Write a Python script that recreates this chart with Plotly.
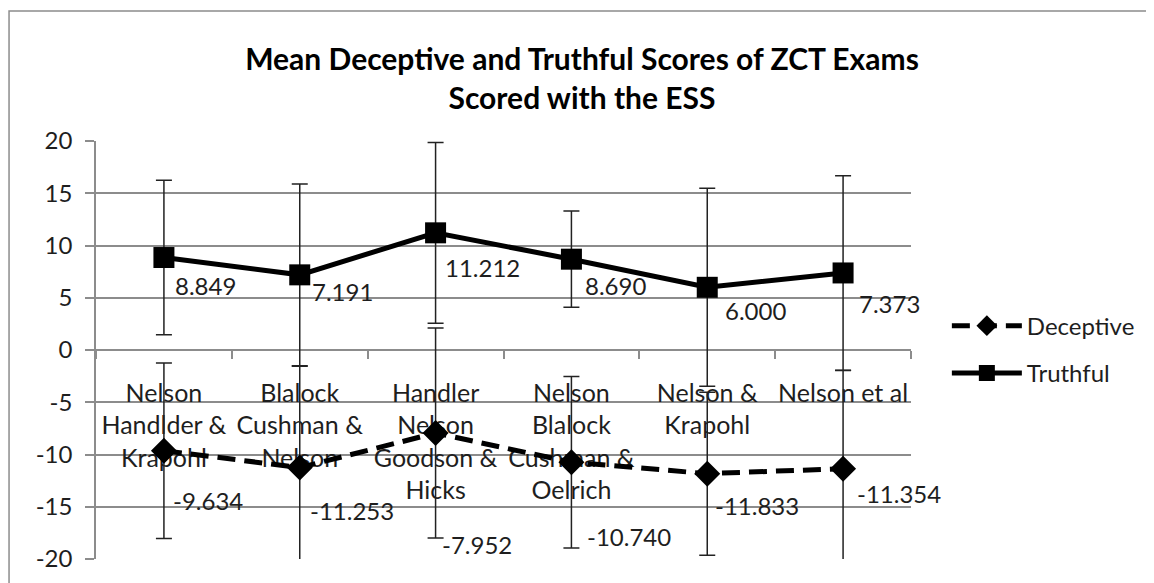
import plotly.graph_objects as go

# Category labels (multi-line as in the source chart)
studies = [
    "Nelson<br>Handlder &<br>Krapohl",
    "Blalock<br>Cushman &<br>Nelson",
    "Handler<br>Nelson<br>Goodson &<br>Hicks",
    "Nelson<br>Blalock<br>Cushman &<br>Oelrich",
    "Nelson &<br>Krapohl",
    "Nelson et al",
]

deceptive_mean = [-9.634, -11.253, -7.952, -10.740, -11.833, -11.354]
deceptive_err = [8.4, 9.7, 10.05, 8.2, 7.8, 9.4]

truthful_mean = [8.849, 7.191, 11.212, 8.690, 6.000, 7.373]
truthful_err = [7.4, 8.7, 8.65, 4.6, 9.47, 9.3]

y_ticks = [-20, -15, -10, -5, 0, 5, 10, 15, 20]
y_tick_labels = ["-20", "-15", "-10", "-5", "0", "5", "10", "15", "20"]

# pixel nudges (dx, dy) for the value labels, as they sit in the original
nudge_deceptive = [(7, 50), (8, 43), (4, 111), (14, 74), (6, 32), (12, 25)]
nudge_truthful = [(9, 28), (10, 17), (7, 35), (12, 26), (16, 23), (14, 31)]

FONT = "Lato"
INK = "#1e1e1e"
GRID = "#8c8c8c"

fig = go.Figure()

fig.add_trace(go.Scatter(
    x=studies, y=deceptive_mean, name="Deceptive", mode="lines+markers",
    line=dict(color="black", width=5, dash="18px,9px"),
    marker=dict(symbol="diamond", size=20, color="black"),
    error_y=dict(type="data", array=deceptive_err, color="#222", thickness=1.5, width=8),
    legendgroup="d",
))
fig.add_trace(go.Scatter(
    x=studies, y=truthful_mean, name="Truthful", mode="lines+markers",
    line=dict(color="black", width=5),
    marker=dict(symbol="square", size=21, color="black"),
    error_y=dict(type="data", array=truthful_err, color="#222", thickness=1.5, width=8),
    legendgroup="t",
))

annotations = []
for vals, nudges in ((deceptive_mean, nudge_deceptive), (truthful_mean, nudge_truthful)):
    for cat, v, (dx, dy) in zip(studies, vals, nudges):
        annotations.append(dict(
            x=cat, y=v, xref="x", yref="y", text=f"{v:.3f}", showarrow=False,
            xanchor="left", yanchor="middle", xshift=dx, yshift=-dy,
            font=dict(family=FONT, size=24, color=INK),
        ))

# the page body adds an 8px offset, so margins are shifted by that amount
fig.update_layout(
    width=1154, height=583,
    margin=dict(l=88, r=251, t=133, b=32),
    paper_bgcolor="white", plot_bgcolor="white",
    font=dict(family=FONT, size=24, color=INK),
    title=dict(
        text="Mean Deceptive and Truthful Scores of ZCT Exams<br>Scored with the ESS",
        x=0.4974, xanchor="center", xref="container",
        y=1 - 62 / 583, yanchor="top", yref="container",
        font=dict(family=FONT, size=30, color="black", weight="bold"),
    ),
    xaxis=dict(
        type="category", range=[-0.5, 5.5], automargin=False,
        anchor="free", position=0.5, tickangle=0,
        showline=True, linecolor=GRID, linewidth=1.5,
        ticks="outside", tickson="boundaries", ticklen=8, tickcolor=GRID, tickwidth=1.5,
        ticklabelstandoff=21,
        showgrid=False, layer="below traces",
        tickfont=dict(family=FONT, size=25, color=INK),
    ),
    yaxis=dict(
        range=[-20, 20], tickvals=y_ticks, ticktext=y_tick_labels, automargin=False,
        showline=True, linecolor=GRID, linewidth=1.5,
        ticks="outside", ticklen=9, tickcolor=GRID, tickwidth=1.5, ticklabelstandoff=8,
        showgrid=True, gridcolor=GRID, gridwidth=1.5, zeroline=False,
        tickfont=dict(family=FONT, size=24, color=INK),
    ),
    legend=dict(
        x=1.044, xanchor="left", y=0.611, yanchor="top",
        font=dict(family=FONT, size=24, color=INK),
        itemwidth=70, traceorder="grouped", tracegroupgap=13,
        bgcolor="rgba(0,0,0,0)",
    ),
    annotations=annotations,
    shapes=[dict(
        type="rect", xref="paper", yref="paper",
        x0=-0.1067, x1=1.35, y0=-0.2, y1=1.311,
        line=dict(color=GRID, width=1.5), fillcolor="rgba(0,0,0,0)", layer="below",
    )],
)

fig.write_html("out.html")
